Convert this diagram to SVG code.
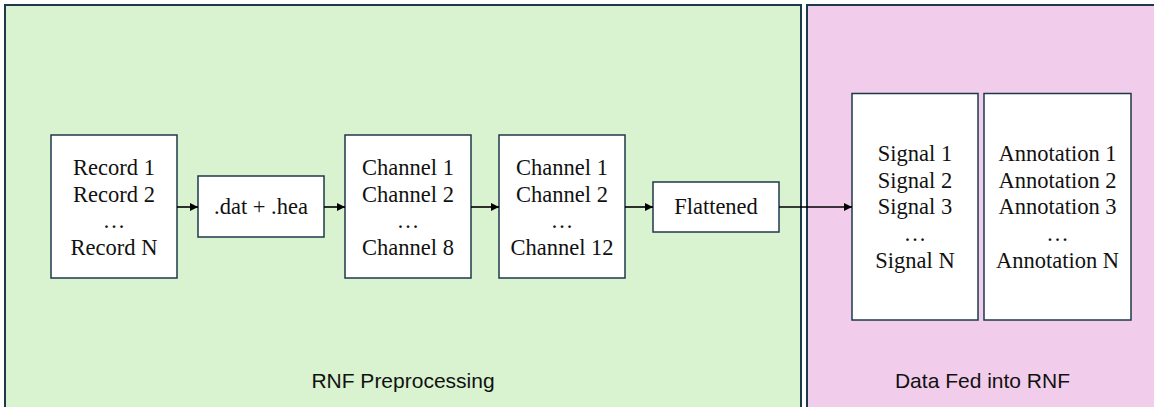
<svg xmlns="http://www.w3.org/2000/svg" width="1154" height="407" viewBox="0 0 1154 407">
<style>
.panel{stroke:#1d3a4a;stroke-width:2}
.box{fill:#ffffff;stroke:#1d3a4a;stroke-width:1.5}
.t{font-family:"Liberation Serif","Times New Roman",serif;font-size:22.5px;fill:#111;text-anchor:middle}
.lbl{font-family:"Liberation Sans",Arial,sans-serif;font-size:21px;fill:#111;text-anchor:middle}
.c{stroke:#000;stroke-width:1.6;fill:none;marker-end:url(#ah)}
</style>
<defs>
<marker id="ah" viewBox="0 0 10 10" refX="10" refY="5" markerWidth="5" markerHeight="5" orient="auto" markerUnits="strokeWidth">
<path d="M0,0 L10,5 L0,10 z" fill="#000"/>
</marker>
</defs>
<g id="panel-preprocessing">
<rect class="panel" x="5" y="5" width="796" height="410" fill="#d9f2d0"/>
<text class="lbl" x="403" y="388">RNF Preprocessing</text>
</g>
<g id="panel-data">
<rect class="panel" x="807" y="5" width="360" height="410" fill="#f1cdeb"/>
<text class="lbl" x="982.5" y="388">Data Fed into RNF</text>
</g>
<g id="records">
<rect class="box" x="51" y="135" width="126" height="143"/>
<text class="t" x="114" y="175">Record 1</text>
<text class="t" x="114" y="201.7">Record 2</text>
<text class="t" x="114" y="228.3">…</text>
<text class="t" x="114" y="255">Record N</text>
</g>
<g id="dathea">
<rect class="box" x="198" y="176" width="126" height="61"/>
<text class="t" x="261" y="214.3">.dat + .hea</text>
</g>
<g id="channels8">
<rect class="box" x="345" y="135" width="126" height="143"/>
<text class="t" x="408" y="175">Channel 1</text>
<text class="t" x="408" y="201.7">Channel 2</text>
<text class="t" x="408" y="228.3">…</text>
<text class="t" x="408" y="255">Channel 8</text>
</g>
<g id="channels12">
<rect class="box" x="499" y="135" width="126" height="143"/>
<text class="t" x="562" y="175">Channel 1</text>
<text class="t" x="562" y="201.7">Channel 2</text>
<text class="t" x="562" y="228.3">…</text>
<text class="t" x="562" y="255">Channel 12</text>
</g>
<g id="flattened">
<rect class="box" x="653" y="182" width="126" height="50"/>
<text class="t" x="716" y="214.3">Flattened</text>
</g>
<g id="signals">
<rect class="box" x="852" y="93.5" width="126" height="226.5"/>
<text class="t" x="915" y="161">Signal 1</text>
<text class="t" x="915" y="187.7">Signal 2</text>
<text class="t" x="915" y="214.3">Signal 3</text>
<text class="t" x="915" y="241">…</text>
<text class="t" x="915" y="267.7">Signal N</text>
</g>
<g id="annotations">
<rect class="box" x="984" y="93.5" width="147" height="226.5"/>
<text class="t" x="1057.5" y="161">Annotation 1</text>
<text class="t" x="1057.5" y="187.7">Annotation 2</text>
<text class="t" x="1057.5" y="214.3">Annotation 3</text>
<text class="t" x="1057.5" y="241">…</text>
<text class="t" x="1057.5" y="267.7">Annotation N</text>
</g>
<g id="connectors">
<line class="c" x1="177" y1="207" x2="198" y2="207"/>
<line class="c" x1="324" y1="207" x2="345" y2="207"/>
<line class="c" x1="471" y1="207" x2="499" y2="207"/>
<line class="c" x1="625" y1="207" x2="653" y2="207"/>
<line class="c" x1="779" y1="207" x2="852" y2="207"/>
</g>
</svg>
